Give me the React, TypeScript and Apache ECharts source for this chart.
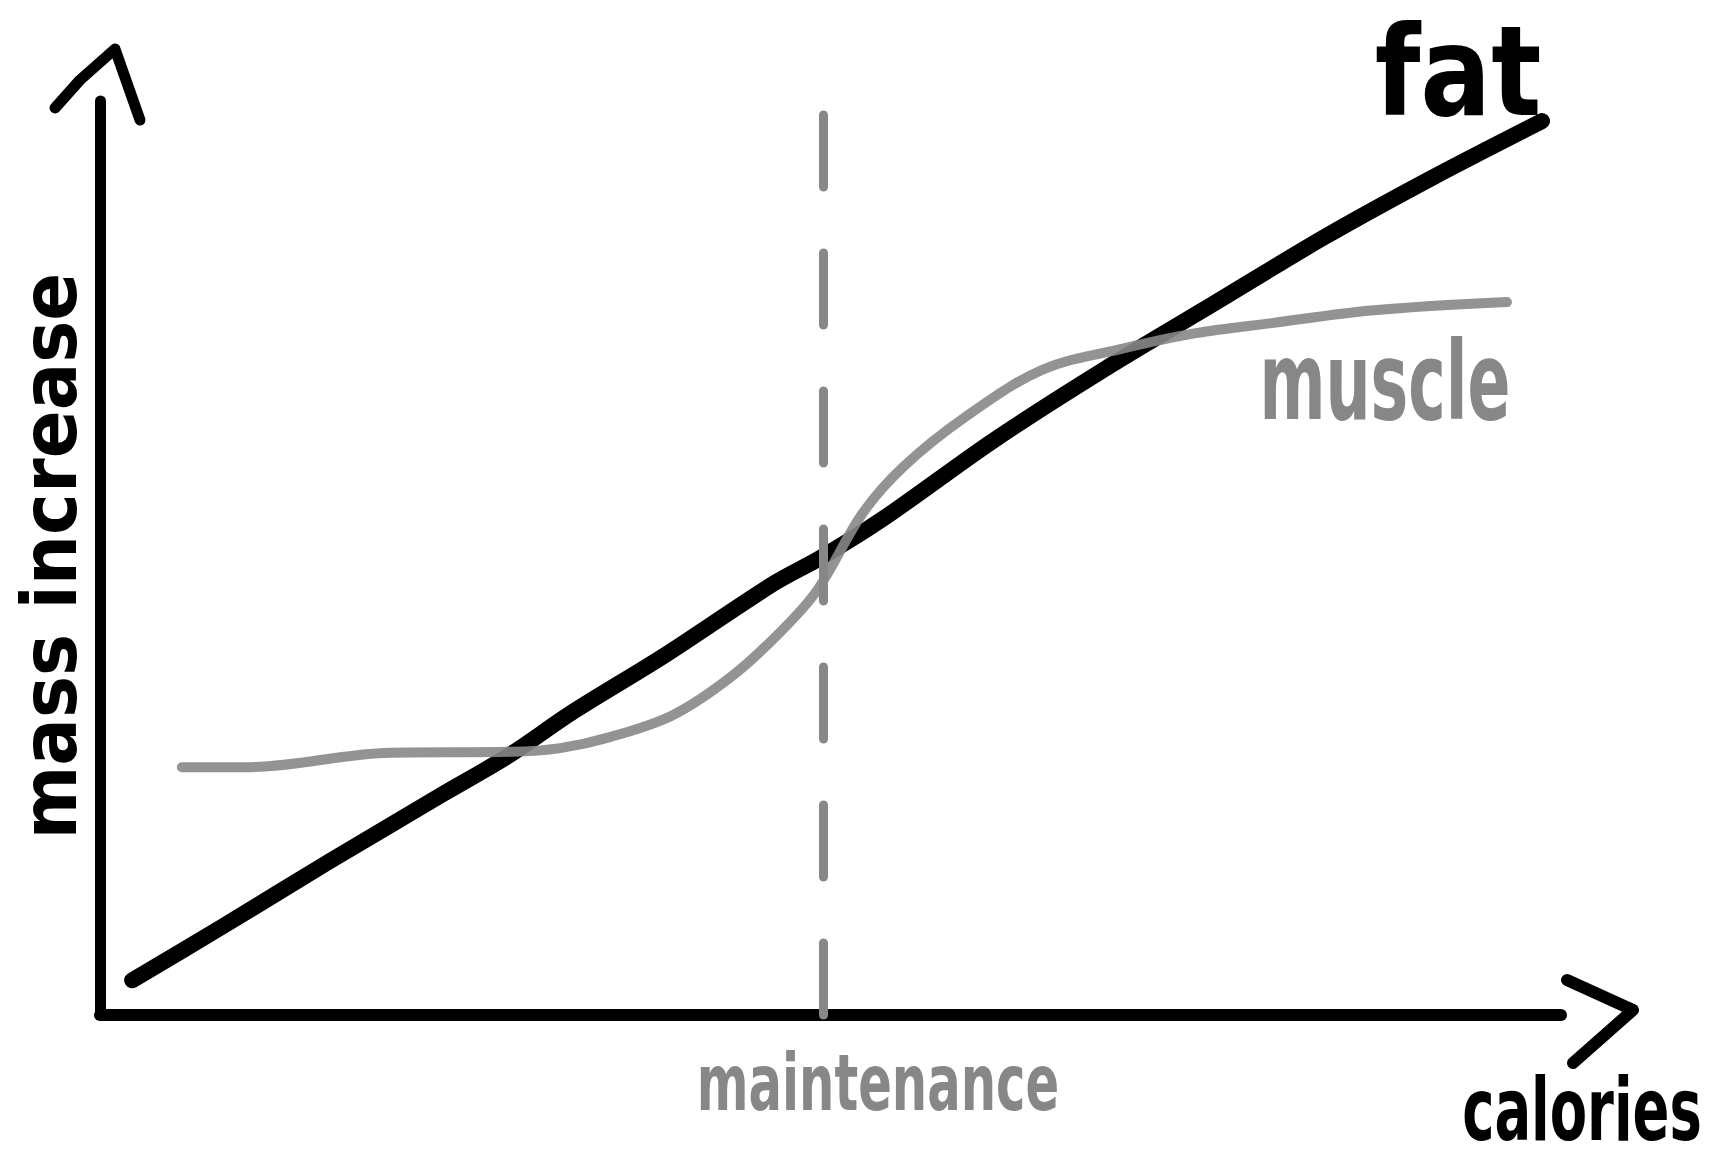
import React, { useEffect, useRef } from "react";
import * as echarts from "echarts";

// Fat mass increase vs calories (arbitrary units 0..100)
const fatCalories = [2.2, 8.3, 15.8, 23.4, 27.9, 32.4, 38.5, 46.0, 49.4, 53.6, 61.1, 68.7, 76.2, 83.8, 91.3, 98.7];
const fatMass = [3.8, 9.6, 16.9, 24.1, 28.3, 33.2, 39.2, 47.1, 50.1, 54.3, 62.8, 70.6, 77.8, 85.1, 91.7, 97.8];

// Muscle mass increase vs calories
const muscleCalories = [5.6, 9.9, 19.9, 28.2, 31.5, 34.9, 39.2, 43.2, 46.5, 49.1, 52.2, 55.0, 59.2, 64.5, 69.7, 75.0, 80.2, 87.2, 96.3];
const muscleMass = [27.1, 27.1, 28.7, 28.8, 29.2, 30.4, 32.8, 37.0, 41.8, 46.5, 54.9, 60.0, 65.4, 70.6, 72.8, 74.6, 75.7, 77.1, 78.0];

// Maintenance calories marker
const maintenanceCalories = 49.5;

const labelFat = "fat";
const labelMuscle = "muscle";
const labelMaintenance = "maintenance";
const labelX = "calories";
const labelY = "mass increase";

const INK = "#000000";
const GREY = "#878787";
const FONT = "'DejaVu Sans', sans-serif";

export default function App() {
  const ref = useRef<HTMLDivElement>(null);

  useEffect(() => {
    document.body.style.margin = "0";
    if (!ref.current) return;
    const chart = echarts.init(ref.current, undefined, { renderer: "svg" });

    const fatData = fatCalories.map((x, i) => [x, fatMass[i]]);
    const muscleData = muscleCalories.map((x, i) => [x, muscleMass[i]]);

    const baseAxis = {
      type: "value" as const,
      min: 0,
      max: 100,
      axisTick: { show: false },
      axisLabel: { show: false },
      splitLine: { show: false },
    };

    chart.setOption({
      animation: false,
      backgroundColor: "#ffffff",
      grid: { left: 100, right: 167, top: 101, bottom: 146 },
      xAxis: { ...baseAxis, axisLine: { show: true, lineStyle: { color: INK, width: 12, cap: "round" } } },
      yAxis: { ...baseAxis, axisLine: { show: true, lineStyle: { color: INK, width: 11, cap: "round" } } },
      series: [
        {
          type: "line",
          name: labelFat,
          data: fatData,
          smooth: 0.3,
          symbol: "none",
          z: 3,
          lineStyle: { color: INK, width: 16, cap: "round", join: "round" },
        },
        {
          type: "line",
          name: labelMuscle,
          data: muscleData,
          smooth: 0.35,
          symbol: "none",
          z: 4,
          lineStyle: { color: GREY, width: 10, opacity: 0.9, cap: "round", join: "round" },
          markLine: {
            silent: true,
            symbol: ["none", "none"],
            label: { show: false },
            lineStyle: { color: GREY, width: 9, type: [72, 66], cap: "round" },
            data: [{ xAxis: maintenanceCalories }],
          },
        },
      ],
      graphic: [
        {
          type: "polyline",
          shape: { points: [[55, 108], [80, 80], [115, 49], [140, 120]] },
          style: { stroke: INK, lineWidth: 11, fill: null, lineCap: "round", lineJoin: "round" },
        },
        {
          type: "polyline",
          shape: { points: [[1567, 980], [1633, 1010], [1573, 1063]] },
          style: { stroke: INK, lineWidth: 12, fill: null, lineCap: "round", lineJoin: "round" },
        },
        {
          type: "text",
          x: 1458,
          y: 134,
          scaleX: 1.05,
          scaleY: 1.24,
          style: {
            text: labelFat,
            fill: INK,
            font: `bold 100px ${FONT}`,
            textAlign: "center",
            textVerticalAlign: "bottom",
          },
        },
        {
          type: "text",
          x: 1385,
          y: 436,
          scaleX: 0.88,
          scaleY: 1.5,
          style: {
            text: labelMuscle,
            fill: GREY,
            font: `bold 72px ${FONT}`,
            textAlign: "center",
            textVerticalAlign: "bottom",
          },
        },
        {
          type: "text",
          x: 878,
          y: 1122,
          scaleX: 0.92,
          scaleY: 1.45,
          style: {
            text: labelMaintenance,
            fill: GREY,
            font: `bold 54px ${FONT}`,
            textAlign: "center",
            textVerticalAlign: "bottom",
          },
        },
        {
          type: "text",
          x: 1582,
          y: 1154,
          scaleX: 0.8,
          scaleY: 1.28,
          style: {
            text: labelX,
            fill: INK,
            font: `bold 68px ${FONT}`,
            textAlign: "center",
            textVerticalAlign: "bottom",
          },
        },
        {
          type: "text",
          x: 50,
          y: 556,
          rotation: Math.PI / 2,
          scaleX: 1.07,
          scaleY: 1.15,
          style: {
            text: labelY,
            fill: INK,
            font: `bold 66px ${FONT}`,
            textAlign: "center",
            textVerticalAlign: "middle",
          },
        },
      ],
    });

    return () => chart.dispose();
  }, []);

  return (
    <div
      ref={ref}
      style={{ position: "absolute", left: 0, top: 0, width: 1728, height: 1161, background: "#fff" }}
    />
  );
}
